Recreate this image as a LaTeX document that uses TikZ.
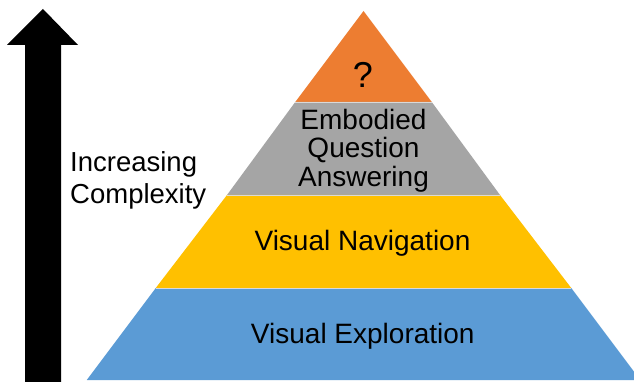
\documentclass[tikz,border=0pt]{standalone}
\usepackage{fontspec}
\setmainfont{Liberation Sans}
\definecolor{toporange}{HTML}{ED7D31}
\definecolor{layergray}{HTML}{A5A5A5}
\definecolor{layeryellow}{HTML}{FFC000}
\definecolor{layerblue}{HTML}{5B9BD5}
\begin{document}
\begin{tikzpicture}[x=1pt,y=-1pt,
  sep/.style={draw=white!85!black, line width=0.8pt},
  lbl/.style={inner sep=0pt, anchor=base, text=black, font=\fontsize{28}{28.5}\selectfont, align=center},
  sidelbl/.style={inner sep=0pt, anchor=base west, text=black, font=\fontsize{27.5}{31.5}\selectfont, align=left}]
\useasboundingbox (0,0) rectangle (634,382);
\clip (0,0) rectangle (634,382);
\fill[white] (0,0) rectangle (634,382);
% pyramid layers (apex 363.5,11; half width = 0.75*(y-11))
\fill[toporange]   (363.5,11) -- (431.75,102) -- (295.25,102) -- cycle;
\fill[layergray]   (295.25,102) -- (431.75,102) -- (500,195) -- (227,195) -- cycle;
\fill[layeryellow] (227,195) -- (500,195) -- (571.25,288) -- (155.75,288) -- cycle;
\fill[layerblue]   (155.75,288) -- (571.25,288) -- (640.25,380) -- (86.75,380) -- cycle;
\draw[sep] (295.25,102) -- (431.75,102);
\draw[sep] (227,195) -- (500,195);
\draw[sep] (155.75,288) -- (571.25,288);
% labels
\node[lbl, font=\fontsize{36}{40}\selectfont] (q) at (363,87.3) {?};
\node[lbl] (eqa) at (363.5,186) {Embodied\\Question\\Answering};
\node[lbl] (nav) at (362.5,250.7) {Visual Navigation};
\node[lbl] (exp) at (362.8,343.3) {Visual Exploration};
% arrow
\fill[black] (43,9) -- (78,45) -- (61,45) -- (61,382) -- (25,382) -- (25,45) -- (7,45) -- cycle;
\node[sidelbl] (inc) at (70,203.2) {Increasing\\Complexity};
\end{tikzpicture}
\end{document}
